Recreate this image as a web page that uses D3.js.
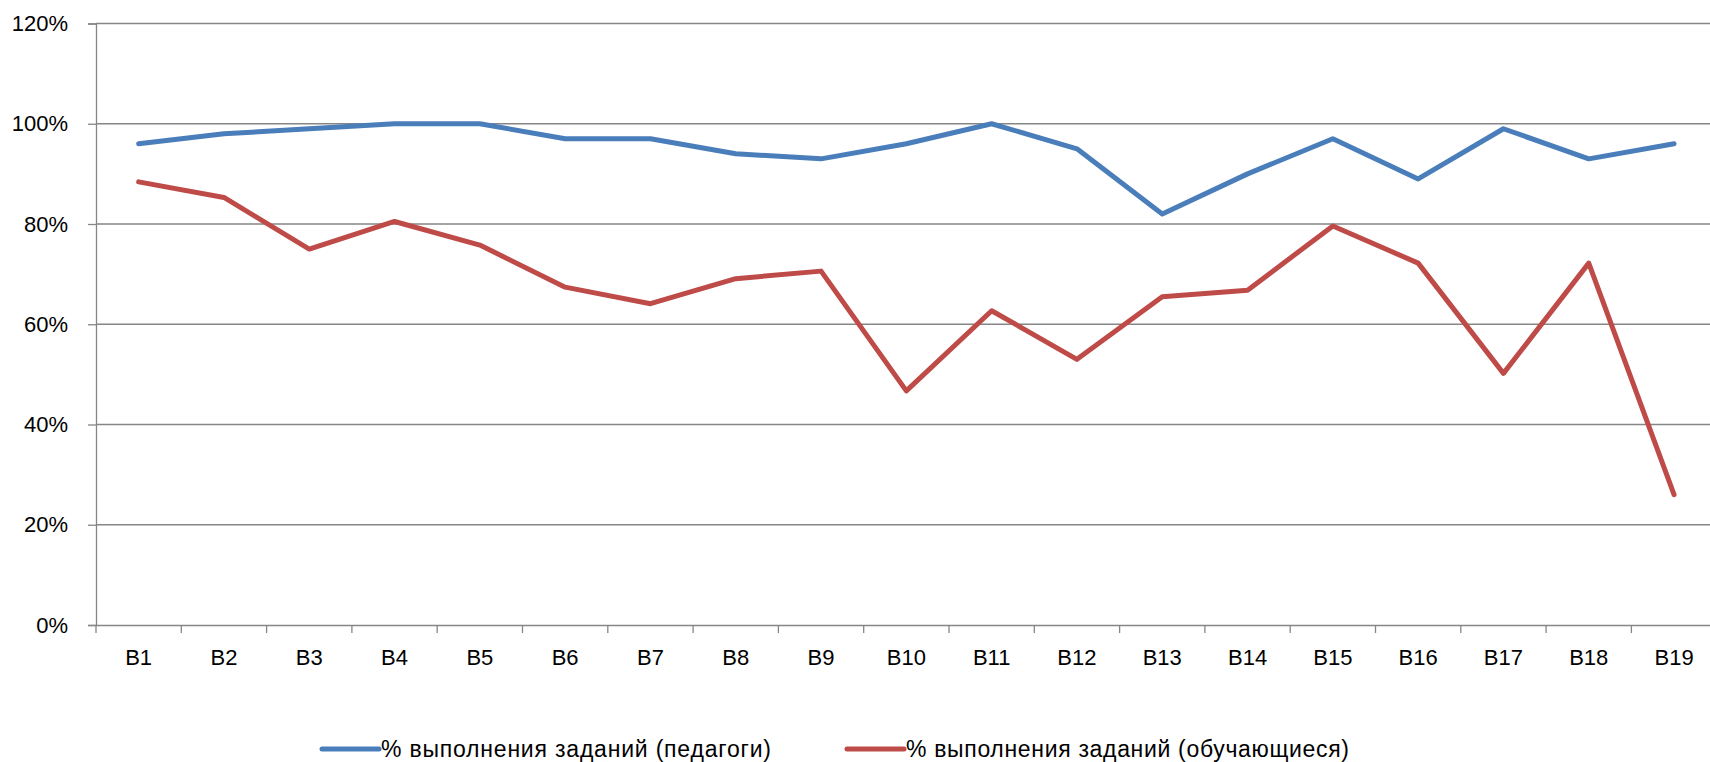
<!DOCTYPE html>
<html>
<head>
<meta charset="utf-8">
<script src="https://cdn.jsdelivr.net/npm/d3@7"></script>
<style>
  html, body { margin: 0; padding: 0; background: #fff; }
  svg { display: block; }
  text { font-family: "Liberation Sans", Arial, sans-serif; fill: #000; }
</style>
</head>
<body>
<svg id="chart" width="1710" height="762"></svg>
<script>
const categories = ["В1","В2","В3","В4","В5","В6","В7","В8","В9","В10","В11","В12","В13","В14","В15","В16","В17","В18","В19"];
const teachers = [96, 98, 99, 100, 100, 97, 97, 94, 93, 96, 100, 95, 82, 90, 97, 89, 99, 93, 96];
const students = [88.4, 85.3, 75.0, 80.5, 75.8, 67.4, 64.1, 69.1, 70.6, 46.7, 62.7, 53.0, 65.5, 66.8, 79.6, 72.2, 50.2, 72.2, 26.0];
const yTicks = [0, 20, 40, 60, 80, 100, 120];
const seriesNames = ["% выполнения заданий (педагоги)", "% выполнения заданий (обучающиеся)"];
const seriesColors = ["#4A7EBB", "#BE4B48"];

const svg = d3.select("#chart");
const plotLeft = 96, plotTop = 23.5, plotBottom = 625;
const step = 85.3;
const plotRight = plotLeft + step * categories.length;

const x = d3.scaleBand().domain(categories).range([plotLeft, plotRight]).padding(0);
const y = d3.scaleLinear().domain([0, 120]).range([plotBottom, plotTop]);

// gridlines
svg.append("g").selectAll("line").data(yTicks.filter(d => d > 0)).join("line")
  .attr("x1", plotLeft).attr("x2", plotRight)
  .attr("y1", d => y(d)).attr("y2", d => y(d))
  .attr("stroke", "#868686").attr("stroke-width", 1.3);

// y axis
const yAxis = svg.append("g").attr("transform", `translate(${plotLeft},0)`)
  .call(d3.axisLeft(y).tickValues(yTicks).tickFormat(d => d + "%").tickSize(8).tickPadding(20));
yAxis.select(".domain").attr("stroke", "#868686").attr("stroke-width", 1.3);
yAxis.selectAll(".tick line").attr("stroke", "#868686").attr("stroke-width", 1.3);
yAxis.selectAll("text").attr("font-size", 22).attr("font-family", "Liberation Sans, Arial, sans-serif").attr("fill", "#000");

// x axis
const xAxis = svg.append("g").attr("transform", `translate(0,${plotBottom})`)
  .call(d3.axisBottom(x).tickSize(0).tickPadding(24));
xAxis.select(".domain").attr("stroke", "#868686").attr("stroke-width", 1.3);
xAxis.selectAll("text").attr("font-size", 22).attr("font-family", "Liberation Sans, Arial, sans-serif").attr("fill", "#000");
// x tick marks on category boundaries
svg.append("g").selectAll("line").data(categories.concat(["__end"])).join("line")
  .attr("x1", (d, i) => plotLeft + i * x.step()).attr("x2", (d, i) => plotLeft + i * x.step())
  .attr("y1", plotBottom).attr("y2", plotBottom + 8)
  .attr("stroke", "#868686").attr("stroke-width", 1.3);

const line = d3.line().x((d, i) => x(categories[i]) + x.bandwidth() / 2).y(d => y(d));
[teachers, students].forEach((s, k) => {
  svg.append("path").datum(s).attr("d", line)
    .attr("fill", "none").attr("stroke", seriesColors[k]).attr("stroke-width", 5)
    .attr("stroke-linejoin", "round").attr("stroke-linecap", "round");
});

// legend
const legendX = [322, 847];
const legendY = 749;
const legendTextW = [390, 443];
seriesNames.forEach((name, k) => {
  const g = svg.append("g").attr("transform", `translate(${legendX[k]},${legendY})`);
  g.append("line").attr("x1", 0).attr("x2", 57).attr("y1", 0).attr("y2", 0)
    .attr("stroke", seriesColors[k]).attr("stroke-width", 5).attr("stroke-linecap", "round");
  g.append("text").attr("x", 59).attr("y", 8).attr("font-size", 23)
    .attr("textLength", legendTextW[k]).attr("lengthAdjust", "spacing").text(name);
});
</script>
</body>
</html>
